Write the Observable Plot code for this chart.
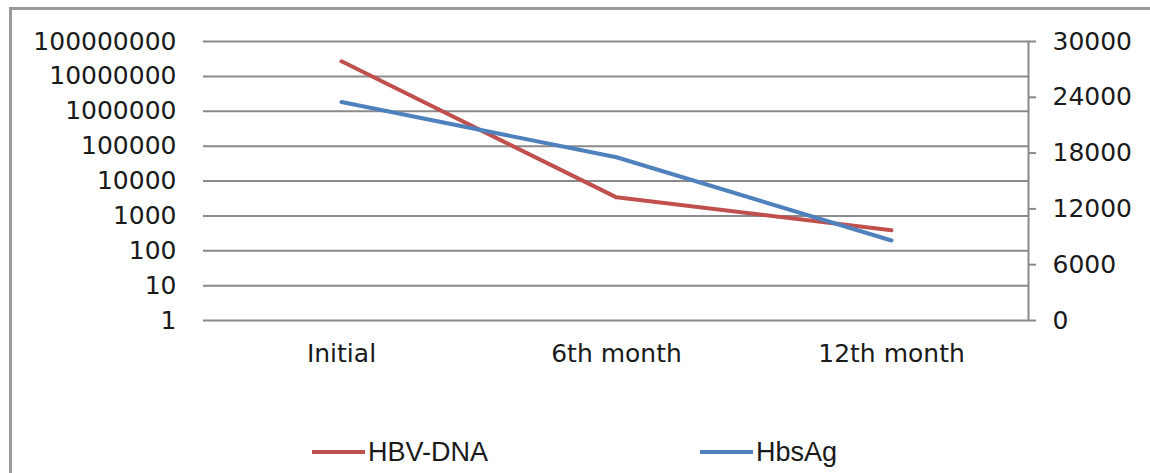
<!DOCTYPE html>
<html>
<head>
<meta charset="utf-8">
<script src="https://cdn.jsdelivr.net/npm/d3@7"></script>
<script src="https://cdn.jsdelivr.net/npm/@observablehq/plot@0.6"></script>
<style>
  html, body { margin: 0; padding: 0; background: #fff; overflow: hidden; }
  #wrap { position: relative; width: 1150px; height: 473px; }
  #border { position: absolute; left: 9px; top: 7px; width: 1160px; height: 500px; border: 3px solid #9a9a9a; box-sizing: border-box; }
  .layer { position: absolute; left: 0; top: 0; }
  .layer svg { background: transparent !important; }
  #legend { position: absolute; top: 437px; left: 0; width: 1150px; height: 30px; font-family: "Liberation Sans", Arial, sans-serif; font-size: 27px; color: #1a1a1a; }
  .item { position: absolute; top: 0; display: flex; align-items: center; height: 30px; }
  .sw { width: 53px; height: 4px; margin-right: 3px; }
</style>
</head>
<body>
<div id="wrap">
  <div id="border"></div>
  <div id="left" class="layer"></div>
  <div id="right" class="layer"></div>
  <div id="legend"></div>
</div>
<script>
const categories = ["Initial", "6th month", "12th month"];
const hbvDna = [27000000, 3400, 385];
const hbsAg = [23500, 17550, 8600];
const leftTicks = [1, 10, 100, 1000, 10000, 100000, 1000000, 10000000, 100000000];
const rightTicks = [0, 6000, 12000, 18000, 24000, 30000];
const seriesNames = ["HBV-DNA", "HbsAg"];
const seriesColors = ["#C0504D", "#4F81BD"];

const W = 1150, H = 473;
const margins = { marginTop: 41, marginBottom: 153, marginLeft: 203, marginRight: 122 };
const font = { fontFamily: "'DejaVu Sans', Verdana, sans-serif", fontSize: "25px", color: "#1a1a1a", background: "transparent", overflow: "visible" };
const xOpts = { type: "point", domain: categories, padding: 0.5 };

const dnaData = categories.map((c, i) => ({ cat: c, v: hbvDna[i] }));
const agData = categories.map((c, i) => ({ cat: c, v: hbsAg[i] }));

const left = Plot.plot({
  width: W, height: H, ...margins, style: font,
  x: { ...xOpts },
  y: { type: "log", domain: [1, 100000000] },
  marks: [
    Plot.ruleY(leftTicks, { stroke: "#8a8a8a", strokeWidth: 2 }),
    Plot.axisY(leftTicks, { anchor: "left", tickSize: 0, tickPadding: 27, tickFormat: d => String(d), fill: "#1a1a1a", label: null }),
    Plot.axisX({ anchor: "bottom", tickSize: 0, tickPadding: 24, label: null, fill: "#1a1a1a" }),
    Plot.line(dnaData, { x: "cat", y: "v", stroke: seriesColors[0], strokeWidth: 4 })
  ]
});
document.getElementById("left").appendChild(left);

const right = Plot.plot({
  width: W, height: H, ...margins, style: font,
  x: { ...xOpts, axis: null },
  y: { type: "linear", domain: [0, 30000] },
  marks: [
    Plot.frame({ anchor: "right", stroke: "#8a8a8a", strokeWidth: 2 }),
    Plot.axisY(rightTicks, { anchor: "right", tickSize: 7, tickPadding: 17, stroke: "#8a8a8a", strokeWidth: 2, tickFormat: d => String(d), fill: "#1a1a1a", label: null }),
    Plot.line(agData, { x: "cat", y: "v", stroke: seriesColors[1], strokeWidth: 4 })
  ]
});
document.getElementById("right").appendChild(right);

const legend = document.getElementById("legend");
const legendX = [312, 700];
seriesNames.forEach((name, i) => {
  const it = document.createElement("div");
  it.className = "item";
  it.style.left = legendX[i] + "px";
  const sw = document.createElement("div");
  sw.className = "sw";
  sw.style.background = seriesColors[i];
  const tx = document.createElement("span");
  tx.textContent = name;
  it.appendChild(sw); it.appendChild(tx);
  legend.appendChild(it);
});
</script>
</body>
</html>
